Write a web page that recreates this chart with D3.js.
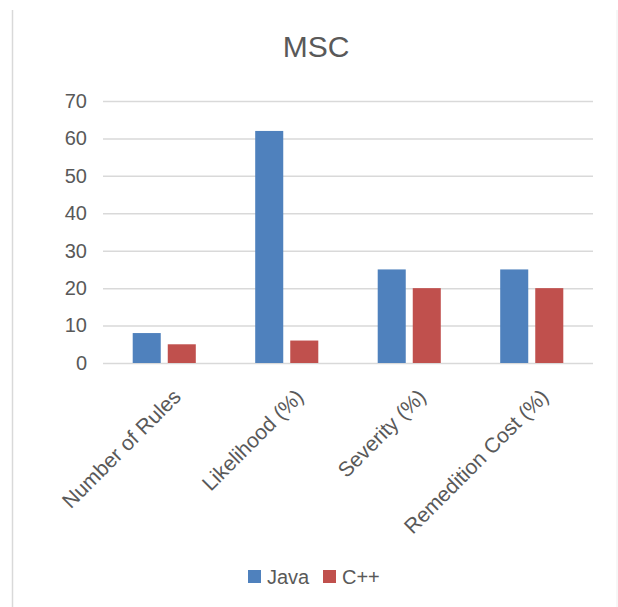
<!DOCTYPE html>
<html>
<head>
<meta charset="utf-8">
<script src="https://cdn.jsdelivr.net/npm/d3@7"></script>
<style>
  html, body { margin: 0; padding: 0; background: #fff; }
  svg { display: block; font-family: "Liberation Sans", Arial, sans-serif; }
</style>
</head>
<body>
<svg id="chart" width="618" height="607"></svg>
<script>
// MSC rule metrics, Java vs C++
const categories = ["Number of Rules", "Likelihood (%)", "Severity (%)", "Remedition Cost (%)"];
const seriesNames = ["Java", "C++"];
const javaValues = [8, 62, 25, 25];
const cppValues = [5, 6, 20, 20];
const yTicks = [0, 10, 20, 30, 40, 50, 60, 70];
const seriesColors = ["#4f81bd", "#c0504d"];

const seriesValues = [javaValues, cppValues];
const rows = categories.map((c, i) => ({
  category: c,
  values: seriesNames.map((s, k) => ({ series: s, value: seriesValues[k][i] }))
}));

const svg = d3.select("#chart");
const textColor = "#595959";

// chart frame edges
svg.append("line").attr("x1", 12.5).attr("x2", 12.5).attr("y1", 10).attr("y2", 607)
  .attr("stroke", "#d9d9d9").attr("stroke-width", 1.5);
svg.append("line").attr("x1", 617).attr("x2", 617).attr("y1", 10).attr("y2", 607)
  .attr("stroke", "#eeeeee").attr("stroke-width", 1);

// title
svg.append("text").attr("x", 316).attr("y", 57).attr("text-anchor", "middle")
  .attr("font-size", 30).attr("fill", textColor).text("MSC");

const plot = { left: 103, right: 593, top: 101, bottom: 363 };

const x0 = d3.scaleBand().domain(categories).range([plot.left, plot.right])
  .paddingInner(0.485).paddingOuter(0.2425);
const x1 = d3.scaleBand().domain(seriesNames).range([0, x0.bandwidth()]).paddingInner(0.2);
const y = d3.scaleLinear().domain([0, 70]).range([plot.bottom, plot.top]);
const color = d3.scaleOrdinal().domain(seriesNames).range(seriesColors);

// gridlines and value labels
const yAxis = d3.axisLeft(y).tickValues(yTicks).tickSize(-(plot.right - plot.left)).tickPadding(16);
const gy = svg.append("g").attr("transform", `translate(${plot.left},0)`).call(yAxis);
gy.select(".domain").remove();
gy.selectAll(".tick line").attr("stroke", "#d9d9d9").attr("stroke-width", 1.5);
gy.selectAll(".tick text").attr("font-size", 20).attr("fill", textColor)
  .attr("font-family", "Liberation Sans, Arial, sans-serif");

// bars
const groups = svg.append("g").selectAll("g").data(rows).join("g")
  .attr("transform", d => `translate(${x0(d.category)},0)`);
groups.selectAll("rect").data(d => d.values).join("rect")
  .attr("x", d => x1(d.series))
  .attr("width", x1.bandwidth())
  .attr("y", d => y(d.value))
  .attr("height", d => y(0) - y(d.value))
  .attr("fill", d => color(d.series));

// rotated category labels
const xAxis = d3.axisBottom(x0).tickSize(0).tickPadding(0);
const gx = svg.append("g").attr("transform", `translate(0,${plot.bottom})`).call(xAxis);
gx.select(".domain").remove();
gx.selectAll(".tick text")
  .attr("font-size", 21).attr("fill", textColor)
  .attr("font-family", "Liberation Sans, Arial, sans-serif")
  .attr("text-anchor", "end")
  .attr("dy", null).attr("y", null)
  .attr("transform", "translate(18,35) rotate(-45)");

// legend
const legend = svg.append("g");
const legendX = [248, 323];
seriesNames.forEach((s, i) => {
  legend.append("rect").attr("x", legendX[i]).attr("y", 570).attr("width", 13).attr("height", 13)
    .attr("fill", color(s));
  legend.append("text").attr("x", legendX[i] + 19).attr("y", 584)
    .attr("font-size", 20).attr("fill", textColor).text(s);
});
</script>
</body>
</html>
